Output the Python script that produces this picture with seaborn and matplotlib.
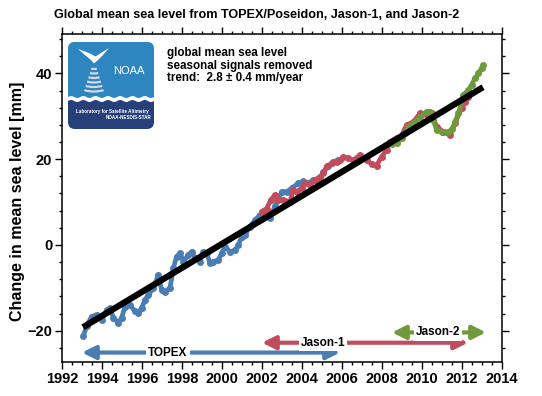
import numpy as np
import matplotlib
matplotlib.use('Agg')
import matplotlib.pyplot as plt
import seaborn as sns
from matplotlib.patches import FancyBboxPatch, Polygon, Arc
from matplotlib.ticker import MultipleLocator

# TOPEX/Poseidon
topex_t = [1993.07, 1993.23, 1993.48, 1993.73, 1993.98, 1994.23, 1994.40, 1994.57, 1994.82, 1994.98,
           1995.15, 1995.40, 1995.65, 1995.82, 1995.98, 1996.15, 1996.32, 1996.57, 1996.82, 1996.98,
           1997.15, 1997.40, 1997.57, 1997.73, 1997.90, 1998.07, 1998.32, 1998.48, 1998.65, 1998.90,
           1999.07, 1999.23, 1999.40, 1999.57, 1999.82, 1999.98, 2000.15, 2000.40, 2000.65, 2000.82,
           2000.98, 2001.15, 2001.40, 2001.65, 2001.90, 2002.23, 2002.40, 2002.65, 2002.98, 2003.23,
           2003.48, 2003.82, 2004.07, 2004.32, 2004.57, 2004.82, 2005.07, 2005.32, 2005.57, 2005.82]
topex_mm = [-21.2, -19.0, -16.7, -16.3, -17.5, -15.2, -14.7, -17.0, -18.2, -17.0,
            -14.4, -14.0, -15.5, -15.9, -14.7, -12.8, -11.7, -10.0, -7.0, -10.5,
            -10.9, -10.0, -5.4, -2.7, -1.9, -3.9, -2.3, -1.6, -3.0, -3.9,
            -1.6, -1.9, -4.2, -3.9, -3.5, -1.9, -0.4, -1.6, -1.2, 0.0,
            1.9, 2.3, 4.3, 5.8, 7.0, 7.0, 6.3, 9.0, 12.4, 12.4,
            13.2, 14.4, 14.8, 14.4, 15.2, 14.4, 17.1, 18.3, 19.4, 19.8]

# Jason-1
jason1_t = [2001.98, 2002.23, 2002.45, 2002.65, 2002.82, 2003.07, 2003.40, 2003.57, 2003.73, 2003.98,
            2004.15, 2004.40, 2004.65, 2004.90, 2005.07, 2005.23, 2005.48, 2005.73, 2005.90, 2006.07,
            2006.30, 2006.57, 2006.90, 2007.23, 2007.50, 2007.73, 2007.98, 2008.23, 2008.40, 2008.73,
            2008.95, 2009.23, 2009.57, 2009.90, 2010.23, 2010.48, 2010.73, 2011.07, 2011.40, 2011.65,
            2011.98, 2012.15, 2012.30]
jason1_mm = [7.8, 8.5, 10.5, 11.7, 10.5, 10.5, 10.1, 12.8, 12.4, 13.2,
             14.4, 14.0, 15.2, 15.9, 16.7, 18.3, 19.0, 19.4, 19.8, 20.6,
             20.2, 19.8, 21.0, 19.8, 18.8, 18.5, 20.6, 22.1, 24.1, 24.9,
             25.2, 28.0, 28.7, 30.7, 30.3, 30.7, 27.6, 26.4, 25.6, 28.4,
             31.9, 33.4, 34.6]

# Jason-2
jason2_t = [2008.50, 2008.75, 2009.00, 2009.15, 2009.32, 2009.65, 2009.90, 2010.23, 2010.40, 2010.57,
            2010.73, 2010.98, 2011.32, 2011.50, 2011.65, 2011.82, 2012.07, 2012.32, 2012.48, 2012.65,
            2012.82, 2012.98, 2013.07]
jason2_mm = [23.5, 23.7, 25.0, 26.0, 27.6, 28.7, 29.9, 31.1, 31.1, 29.1,
             26.8, 26.4, 26.4, 27.0, 28.7, 30.7, 35.0, 36.1, 37.3, 38.9,
             40.0, 41.2, 42.0]

trend_t = [1993.05, 2013.05]
trend_mm = [-19.2, 36.8]

# mission spans (start, end, label x, arrow y)
missions = ['TOPEX', 'Jason-1', 'Jason-2']
mission_start = [1993.0, 2002.0, 2008.5]
mission_end = [2005.9, 2012.3, 2013.2]
mission_label_x = [1997.3, 2005.05, 2010.8]
mission_y = [-25.1, -22.8, -20.4]

blue = '#4a7db3'
red = '#c04c5c'
green = '#6e9a3c'
colors = [blue, red, green]

sns.set_theme(style='ticks')
plt.rcParams['font.family'] = ['Liberation Sans', 'DejaVu Sans']
plt.rcParams['text.color'] = 'black'
plt.rcParams['axes.labelcolor'] = 'black'
plt.rcParams['xtick.color'] = 'black'
plt.rcParams['ytick.color'] = 'black'

fig = plt.figure(figsize=(5.42, 3.96), dpi=100)
ax = fig.add_axes([62/542, 34/396, 440/542, 328/396])

sns.lineplot(x=topex_t, y=topex_mm, ax=ax, color=blue, lw=3.4, marker='o',
             markersize=5, markeredgewidth=0)
sns.lineplot(x=jason1_t, y=jason1_mm, ax=ax, color=red, lw=3.4, marker='o',
             markersize=5, markeredgewidth=0)
sns.lineplot(x=jason2_t, y=jason2_mm, ax=ax, color=green, lw=3.4, marker='o',
             markersize=5, markeredgewidth=0)
ax.plot(trend_t, trend_mm, color='black', lw=4.5, solid_capstyle='butt', zorder=5)

for name, x0, x1, xl, y, c in zip(missions, mission_start, mission_end, mission_label_x, mission_y, colors):
    ax.annotate('', xy=(x0, y), xytext=(x1, y),
                arrowprops=dict(arrowstyle='<|-|>,head_length=0.8,head_width=0.4',
                                lw=3, color=c, shrinkA=0, shrinkB=0, mutation_scale=10))
    ax.text(xl, y, name, ha='center', va='center', fontsize=8.5, fontweight='bold',
            bbox=dict(fc='white', ec='none', pad=1.5), zorder=6)

ax.set_xlim(1992, 2014)
ax.set_ylim(-27.3, 49.2)
ax.xaxis.set_major_locator(MultipleLocator(2))
ax.xaxis.set_minor_locator(MultipleLocator(0.5))
ax.yaxis.set_major_locator(MultipleLocator(20))
ax.yaxis.set_minor_locator(MultipleLocator(4))
ax.tick_params(which='both', direction='out', top=True, right=True, width=1, color='black')
ax.tick_params(which='major', length=5, labelsize=10.5, pad=2)
ax.tick_params(which='minor', length=2.5)
for lab in ax.get_xticklabels() + ax.get_yticklabels():
    lab.set_fontweight('bold')
for sp in ax.spines.values():
    sp.set_linewidth(1.1)
    sp.set_color('black')
    sp.set_visible(True)

ax.set_xlabel('')
ax.set_ylabel('Change in mean sea level [mm]', fontsize=11.5, fontweight='bold')
ax.yaxis.set_label_coords(-0.085, 0.49)

fig.text(257/542, 1 - 15/396, 'Global mean sea level from TOPEX/Poseidon, Jason-1, and Jason-2',
         ha='center', va='center', fontsize=9.1, fontweight='bold')

ax.text(0.2386, 0.96, 'global mean sea level\nseasonal signals removed\ntrend:  2.8 \u00b1 0.4 mm/year',
        transform=ax.transAxes, ha='left', va='top', fontsize=8.4, fontweight='bold',
        linespacing=1.05)

# NOAA logo
logo = fig.add_axes([68/542, (396-129)/396, 86/542, 87/396])
logo.set_xlim(0, 86)
logo.set_ylim(0, 87)
logo.axis('off')
box = FancyBboxPatch((0, 0), 86, 87, boxstyle='round,pad=0,rounding_size=7',
                     fc='#27407a', ec='none')
logo.add_patch(box)
wx = np.linspace(0, 86, 200)
wave = 29.5 + 1.0*np.sin(wx/86*2*np.pi*7)
white = Polygon(np.column_stack([np.r_[wx, wx[::-1]], np.r_[wave - 1.5, np.full(200, 87)]]),
                fc='white', ec='none')
top = Polygon(np.column_stack([np.r_[wx, wx[::-1]], np.r_[wave + 2.5, np.full(200, 87)]]),
              fc='#2f85bf', ec='none')
for p in (white, top):
    logo.add_patch(p)
    p.set_clip_path(box)
bird = Polygon([(10, 80), (17, 74), (23, 69), (26, 65.5), (30, 69), (35, 74), (41, 81),
                (33, 76), (27.5, 72.5), (21, 76)], fc='white', ec='none')
logo.add_patch(bird)
for yb, w in zip([60, 55.5, 51, 46.5, 42, 37.5], [8, 12, 16, 20, 24, 28]):
    h = w*0.35
    logo.add_patch(Arc((26, yb + h/2), w, h, theta1=200, theta2=340, color='#d3d9e0', lw=1.6))
logo.text(61, 58, 'NOAA', color='white', fontsize=8, ha='center', va='center')
logo.text(44, 17, 'Laboratory for Satellite Altimetry', color='white', fontsize=3.3,
          fontweight='bold', ha='center', va='center')
logo.text(83.5, 11.5, 'NOAA-NESDIS-STAR', color='white', fontsize=3.3,
          fontweight='bold', ha='right', va='center')

fig.savefig('out.png', dpi=100)
